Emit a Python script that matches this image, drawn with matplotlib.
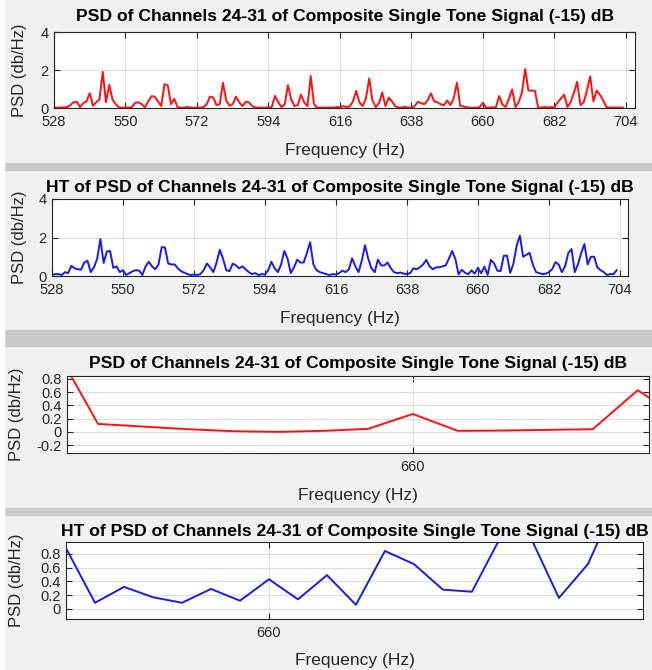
import matplotlib
matplotlib.use("Agg")
import matplotlib.pyplot as plt
from matplotlib.patches import Rectangle
import numpy as np

plt.rcParams['font.family'] = ['Liberation Sans', 'DejaVu Sans']

# frequency axis, 1 Hz steps
freq = np.arange(528, 704)

# PSD of channels 24-31
psd = [0.02, 0.02, 0.02, 0.03, 0.05, 0.15, 0.3, 0.33, 0.05, 0.25,
       0.35, 0.78, 0.12, 0.3, 0.45, 1.9, 0.3, 1.22, 0.45, 0.2,
       0.03, 0.02, 0.02, 0.02, 0.05, 0.28, 0.3, 0.2, 0.03, 0.35,
       0.62, 0.6, 0.35, 0.1, 1.25, 1.2, 0.2, 0.48, 0.05, 0.02,
       0.02, 0.05, 0.02, 0.01, 0.02, 0.02, 0.05, 0.2, 0.6, 0.55,
       0.15, 0.2, 1.33, 0.4, 0.12, 0.2, 0.6, 0.3, 0.1, 0.33,
       0.3, 0.1, 0.02, 0.02, 0.01, 0.02, 0.02, 0.05, 0.64, 0.3,
       0.05, 0.2, 1.2, 0.45, 0.1, 0.15, 0.7, 0.3, 0.1, 1.68,
       0.2, 0.02, 0.02, 0.02, 0.02, 0.03, 0.02, 0.05, 0.03, 0.1,
       0.05, 0.08, 0.35, 0.9, 0.3, 0.1, 0.5, 1.56, 0.4, 0.05,
       0.25, 0.82, 0.1, 0.55, 0.35, 0.1, 0.02, 0.02, 0.06, 0.02,
       0.02, 0.1, 0.33, 0.25, 0.2, 0.4, 0.77, 0.35, 0.3, 0.2,
       0.15, 0.4, 0.15, 0.5, 1.33, 0.12, 0.08, 0.04, 0.01, 0.0,
       0.015, 0.045, 0.27, 0.015, 0.02, 0.03, 0.04, 0.63, 0.18, 0.05,
       0.5, 0.98, 0.05, 0.3, 0.8, 2.05, 0.92, 0.92, 0.9, 0.02,
       0.02, 0.05, 0.03, 0.05, 0.03, 0.3, 0.5, 0.7, 0.05, 0.3,
       0.8, 1.38, 0.15, 0.3, 0.9, 1.67, 0.35, 0.92, 0.7, 0.4,
       0.05, 0.02, 0.02, 0.02, 0.02, 0.03]

# HT of PSD
ht_psd = [0.05, 0.1, 0.1, 0.05, 0.2, 0.15, 0.53, 0.4, 0.35, 0.33,
          0.7, 0.8, 0.2, 0.45, 0.9, 1.92, 0.68, 1.27, 1.3, 0.42,
          0.5, 0.2, 0.3, 0.05, 0.15, 0.25, 0.3, 0.28, 0.05, 0.5,
          0.74, 0.5, 0.35, 0.6, 1.5, 1.48, 0.65, 0.6, 0.6, 0.4,
          0.25, 0.17, 0.1, 0.05, 0.08, 0.05, 0.1, 0.3, 0.65, 0.45,
          0.2, 0.7, 1.36, 0.9, 0.3, 0.25, 0.64, 0.55, 0.4, 0.5,
          0.35, 0.2, 0.1, 0.15, 0.05, 0.1, 0.08, 0.3, 0.74, 0.4,
          0.2, 0.6, 1.3, 0.9, 0.15, 0.45, 0.85, 0.7, 0.7, 1.2,
          1.75, 0.6, 0.3, 0.2, 0.15, 0.1, 0.05, 0.1, 0.08, 0.15,
          0.28, 0.2, 0.35, 0.92, 0.5, 0.2, 0.8, 1.6, 0.9, 0.4,
          0.2, 0.85, 0.55, 0.55, 0.7, 0.4, 0.2, 0.15, 0.18, 0.12,
          0.1, 0.15, 0.4, 0.35, 0.45, 0.6, 0.84, 0.5, 0.35, 0.45,
          0.45, 0.5, 0.55, 0.9, 1.3, 0.88, 0.09, 0.32, 0.17, 0.09,
          0.29, 0.12, 0.43, 0.14, 0.49, 0.06, 0.84, 0.65, 0.28, 0.25,
          1.05, 1.06, 0.16, 0.65, 1.58, 2.1, 1.0, 1.1, 1.2, 0.6,
          0.2, 0.15, 0.1, 0.12, 0.2, 0.35, 0.72, 0.6, 0.2, 0.5,
          1.2, 1.4, 0.2, 0.6, 1.2, 1.66, 0.6, 1.0, 1.0, 0.45,
          0.3, 0.2, 0.05, 0.1, 0.1, 0.3]

title_psd = "PSD of Channels 24-31 of Composite Single Tone Signal (-15) dB"
title_ht = "HT of PSD of Channels 24-31 of Composite Single Tone Signal (-15) dB"
wide_ticks = np.arange(528, 705, 22)
zoom_yticks3 = [-0.2, 0, 0.2, 0.4, 0.6, 0.8]
zoom_yticks4 = [0, 0.2, 0.4, 0.6, 0.8]

W, H = 652, 670
fig = plt.figure(figsize=(W / 100, H / 100), dpi=100, facecolor='#f0f0f0')

# gray separators between the panels (pixel rows from the top)
for y0, y1 in [(163, 170), (330, 346), (508, 515)]:
    fig.patches.append(Rectangle((4 / W, 1 - y1 / H), 1, (y1 - y0) / H,
                                 transform=fig.transFigure, color='#c9c9c9', zorder=0))
fig.patches.append(Rectangle((0, 0), 4 / W, 1, transform=fig.transFigure,
                             color='white', zorder=0))


def px_axes(l, t, r, b):
    return fig.add_axes([l / W, 1 - b / H, (r - l) / W, (b - t) / H])


def style(ax):
    ax.set_facecolor('white')
    ax.grid(True, color='#dcdcdc', linewidth=0.8)
    ax.set_axisbelow(True)
    for s in ax.spines.values():
        s.set_color('#262626')
        s.set_linewidth(0.8)
    ax.tick_params(direction='in', top=True, right=True, length=4, width=0.8,
                   labelsize=10.5, colors='#262626', pad=5)
    ax.tick_params(axis='y', pad=4)


def fmt(v):
    return '0' if abs(v) < 1e-9 else ('%g' % v)


panels = [
    dict(box=(54, 32, 635, 108), y=psd, c='#ff1010', title=title_psd,
         xlim=(528, 706.8), ylim=(0, 4), xt=wide_ticks, yt=[0, 2, 4], ylx=20, tpad=8),
    dict(box=(52, 199, 628, 276), y=ht_psd, c='#1a1aee', title=title_ht,
         xlim=(528, 706.5), ylim=(0, 4), xt=wide_ticks, yt=[0, 2, 4], ylx=20, tpad=5),
    dict(box=(67, 376, 649, 453), y=psd, c='#ff1010', title=title_psd,
         xlim=(652.31, 665.25), ylim=(-0.32, 0.845), xt=[660], yt=zoom_yticks3, ylx=17, tpad=6),
    dict(box=(66, 542, 643, 619), y=ht_psd, c='#1a1aee', title=title_ht,
         xlim=(653, 672.9), ylim=(-0.145, 0.97), xt=[660], yt=zoom_yticks4, ylx=17, tpad=4),
]

for p in panels:
    l, t, r, b = p['box']
    ax = px_axes(l, t, r, b)
    style(ax)
    ax.plot(freq, p['y'], color=p['c'], linewidth=1.4)
    ax.set_xlim(*p['xlim'])
    ax.set_ylim(*p['ylim'])
    ax.set_xticks(p['xt'])
    ax.set_xticklabels([str(v) for v in p['xt']])
    ax.set_yticks(p['yt'])
    ax.set_yticklabels([fmt(v) for v in p['yt']])
    ax.set_title(p['title'], fontsize=12.6, fontweight='bold', pad=p['tpad'], color='black')
    ax.set_xlabel('Frequency (Hz)', fontsize=12.5, color='#262626', va='center')
    ax.xaxis.set_label_coords(0.5, -42 / (b - t))
    ax.set_ylabel('PSD (db/Hz)', fontsize=12, color='#262626', va='center')
    ax.yaxis.set_label_coords((p['ylx'] - l) / (r - l), 0.5)

fig.savefig('out.png', dpi=100, facecolor=fig.get_facecolor())
